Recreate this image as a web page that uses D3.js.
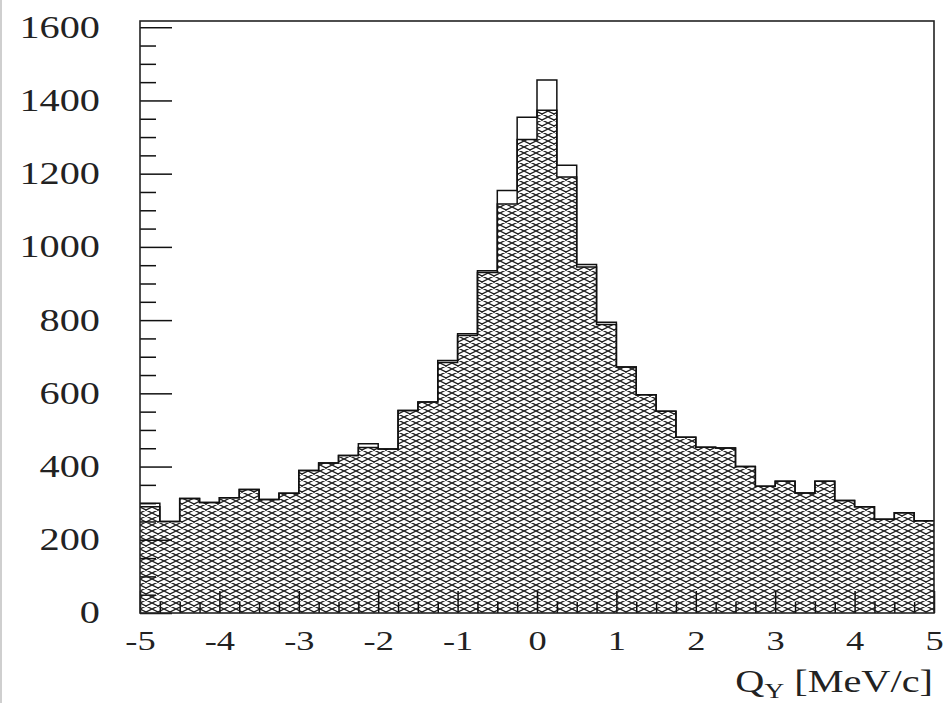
<!DOCTYPE html>
<html>
<head>
<meta charset="utf-8">
<script src="https://cdn.jsdelivr.net/npm/d3@7"></script>
<style>
  body { margin: 0; background: #fff; }
  svg { display: block; }
</style>
</head>
<body>
<svg></svg>
<script>
// bin lower edges, bin width 0.25 MeV/c
const binLow = [-5, -4.75, -4.5, -4.25, -4, -3.75, -3.5, -3.25, -3, -2.75,
                -2.5, -2.25, -2, -1.75, -1.5, -1.25, -1, -0.75, -0.5, -0.25,
                0, 0.25, 0.5, 0.75, 1, 1.25, 1.5, 1.75, 2, 2.25,
                2.5, 2.75, 3, 3.25, 3.5, 3.75, 4, 4.25, 4.5, 4.75];
const binHigh = 5;

// open histogram (all events)
const totalCounts = [300, 250, 313, 302, 315, 337, 310, 327, 389, 410,
                     430, 462, 448, 553, 576, 690, 763, 935, 1154, 1354,
                     1456, 1223, 952, 794, 672, 596, 551, 480, 453, 451,
                     400, 346, 360, 328, 360, 307, 290, 256, 274, 252];
// hatched histogram
const hatchCounts = [290, 250, 313, 302, 315, 337, 310, 327, 389, 410,
                     430, 452, 448, 553, 576, 684, 758, 930, 1117, 1293,
                     1373, 1191, 945, 788, 672, 596, 551, 480, 453, 451,
                     400, 346, 360, 328, 360, 307, 290, 256, 274, 252];

const yMajor = [0, 200, 400, 600, 800, 1000, 1200, 1400, 1600];
const yMinor = [50, 100, 150, 250, 300, 350, 450, 500, 550, 650, 700, 750, 850, 900, 950,
                1050, 1100, 1150, 1250, 1300, 1350, 1450, 1500, 1550];
const xMajor = [-5, -4, -3, -2, -1, 0, 1, 2, 3, 4, 5];
const xMinor = [-4.75, -4.5, -4.25, -3.75, -3.5, -3.25, -2.75, -2.5, -2.25, -1.75, -1.5, -1.25,
                -0.75, -0.5, -0.25, 0.25, 0.5, 0.75, 1.25, 1.5, 1.75, 2.25, 2.5, 2.75,
                3.25, 3.5, 3.75, 4.25, 4.5, 4.75];

const width = 945;
const height = 703;
const svg = d3.select('svg')
  .attr('width', width)
  .attr('height', height);

const margin = {top: 21, right: 11, bottom: 90, left: 140};
const innerWidth = width - margin.left - margin.right;
const innerHeight = height - margin.top - margin.bottom;

const x = d3.scaleLinear().domain([-5, 5]).range([0, innerWidth]);
const y = d3.scaleLinear().domain([0, 1617]).range([innerHeight, 0]);

// cross hatch
const pat = svg.append('defs').append('pattern')
  .attr('id', 'hatch')
  .attr('patternUnits', 'userSpaceOnUse')
  .attr('width', 12).attr('height', 6);
pat.append('rect').attr('width', 12).attr('height', 6).attr('fill', '#fff');
pat.append('path').attr('d', 'M0,0L12,6M0,6L12,0M-1,-0.5L1,0.5M11,5.5L13,6.5M-1,6.5L1,5.5M11,0.5L13,-0.5')
  .attr('stroke', '#222').attr('stroke-width', 1.3).attr('fill', 'none');

// faint page border seen on the left of the scan
svg.append('line').attr('x1', 1).attr('x2', 1).attr('y1', 0).attr('y2', height)
  .attr('stroke', '#cfcfcf').attr('stroke-width', 2);

const g = svg.append('g')
  .attr('transform', 'translate(' + margin.left + ',' + margin.top + ')');

const steps = counts => binLow.map((b, i) => [b, counts[i]])
  .concat([[binHigh, counts[counts.length - 1]]]);

const area = d3.area()
  .curve(d3.curveStepAfter)
  .x(d => x(d[0]))
  .y0(y(0))
  .y1(d => y(d[1]));

const line = d3.line()
  .curve(d3.curveStepAfter)
  .x(d => x(d[0]))
  .y(d => y(d[1]));

g.append('path')
  .attr('d', area(steps(hatchCounts)))
  .attr('fill', 'url(#hatch)');

g.append('path')
  .attr('d', line(steps(hatchCounts)))
  .attr('fill', 'none')
  .attr('stroke', '#111')
  .attr('stroke-width', 1.5);

g.append('path')
  .attr('d', line(steps(totalCounts)))
  .attr('fill', 'none')
  .attr('stroke', '#111')
  .attr('stroke-width', 1.5);

// ticks point into the frame
const font = '"Liberation Serif", "Times New Roman", serif';

// the scan is stretched sideways, so widen glyphs without moving them
const stretch = function() {
  const w = this.getComputedTextLength();
  d3.select(this).attr('textLength', w * 1.3).attr('lengthAdjust', 'spacingAndGlyphs');
};

const yMin = g.append('g').call(d3.axisLeft(y).tickValues(yMinor).tickSize(-16));
const yAx = g.append('g').call(d3.axisLeft(y).tickValues(yMajor).tickSize(-32).tickPadding(40).tickFormat(d => String(d)));

const xMin = g.append('g').attr('transform', 'translate(0,' + innerHeight + ')')
  .call(d3.axisBottom(x).tickValues(xMinor).tickSize(-11));
const xAx = g.append('g').attr('transform', 'translate(0,' + innerHeight + ')')
  .call(d3.axisBottom(x).tickValues(xMajor).tickSize(-22).tickPadding(17).tickFormat(d => String(d)));

// minor ticks carry no labels
yMin.selectAll('text').remove();
xMin.selectAll('text').remove();
g.selectAll('.domain').remove();
g.selectAll('.tick line').attr('stroke', '#111').attr('stroke-width', 1.5);

yAx.selectAll('text')
  .attr('font-family', font)
  .attr('font-size', 31)
  .attr('fill', '#222')
  .each(stretch);

xAx.selectAll('text')
  .attr('font-family', font)
  .attr('font-size', 28)
  .attr('fill', '#222')
  .each(stretch);

// frame
g.append('rect')
  .attr('width', innerWidth)
  .attr('height', innerHeight)
  .attr('fill', 'none')
  .attr('stroke', '#222')
  .attr('stroke-width', 1.6);

// axis title
const title = svg.append('text')
  .attr('x', 933)
  .attr('y', 692)
  .attr('text-anchor', 'end')
  .attr('font-family', font)
  .attr('font-size', 31)
  .attr('fill', '#222');
title.append('tspan').text('Q').each(stretch);
title.append('tspan').attr('font-size', 21).attr('dy', 6).text('Y').each(stretch);
title.append('tspan').attr('dy', -6).text('\u00a0[MeV/c]').each(stretch);
</script>
</body>
</html>
